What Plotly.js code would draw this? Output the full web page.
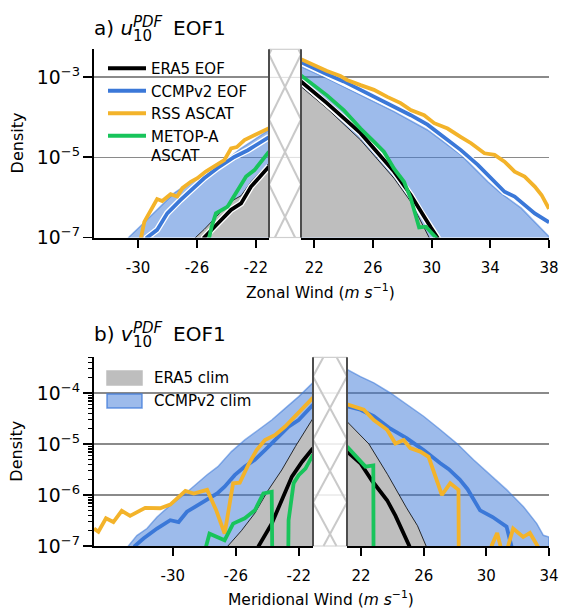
<!DOCTYPE html>
<html><head><meta charset="utf-8">
<script src="https://cdn.plot.ly/plotly-3.0.1.min.js"></script>
<style>html,body{margin:0;padding:0;background:#fff}</style>
</head><body><div id="chart" style="width:561px;height:609px"></div>
<script>
// ---------------- DATA (density; 0 = empty bin) ----------------
// Panel a, negative side (zonal wind)
const aN_era5Clim_x = [-26.3, -26.1, -25.5, -24.6, -23.7, -23.0, -22.3, -21.1];
const aN_era5Clim_y = [0, 1.0e-7, 1.6e-7, 3.5e-7, 7.9e-7, 1.1e-6, 2.5e-6, 7.1e-6];
const aN_ccmpClim_x = [-30.8, -30.65, -29.85, -28.71, -27.57, -26.43, -25.28, -24.14, -23.0, -21.1];
const aN_ccmpClim_y = [0, 1.0e-7, 1.9e-7, 4.9e-7, 1.26e-6, 2.45e-6, 4.4e-6, 7.8e-6, 1.66e-5, 4.8e-5];
const aN_era5Eof_x = [-25.7, -25.51, -24.6, -23.68, -23.0, -22.32, -21.1];
const aN_era5Eof_y = [0, 1.0e-7, 2.2e-7, 4.9e-7, 7.1e-7, 1.86e-6, 5.9e-6];
const aN_ccmpEof_x = [-29.6, -29.39, -28.71, -28.02, -27.11, -26.42, -25.51, -24.6, -23.46, -22.54, -21.1];
const aN_ccmpEof_y = [0, 1.0e-7, 1.55e-7, 4.0e-7, 8.7e-7, 1.5e-6, 3.0e-6, 5.4e-6, 1.02e-5, 1.5e-5, 3.2e-5];
const aN_rss_x = [-30.0, -29.8, -29.58, -28.71, -28.36, -27.79, -27.34, -26.99, -26.42, -25.97, -25.40, -24.83, -24.14, -23.68, -23.29, -22.77, -22.09, -21.1];
const aN_rss_y = [0, 1.0e-7, 2.45e-7, 9.1e-7, 8.1e-7, 1.2e-6, 1.05e-6, 1.7e-6, 2.45e-6, 3.0e-6, 4.4e-6, 5.9e-6, 8.5e-6, 1.66e-5, 1.8e-5, 2.7e-5, 3.6e-5, 5.3e-5];
const aN_metop_x = [-25.3, -25.17, -25.0, -24.71, -23.91, -23.34, -22.66, -22.09, -21.1];
const aN_metop_y = [0, 1.0e-7, 1.86e-7, 4.0e-7, 5.9e-7, 1.26e-6, 3.3e-6, 4.8e-6, 1.38e-5];

// Panel a, positive side
const aP_era5Clim_x = [21.1, 22.87, 25.16, 27.44, 28.58, 29.83, 30.0];
const aP_era5Clim_y = [5.8e-4, 1.66e-4, 2.7e-5, 3.0e-6, 7.8e-7, 1.0e-7, 0];
const aP_ccmpClim_x = [21.1, 22.87, 25.16, 27.44, 29.72, 32.0, 33.83, 34.74, 36.11, 37.03, 37.95, 38.0];
const aP_ccmpClim_y = [1.82e-3, 9.3e-4, 3.5e-4, 1.38e-4, 4.8e-5, 1.15e-5, 2.45e-6, 1.26e-6, 5.4e-7, 2.45e-7, 1.15e-7, 1.05e-7];
const aP_era5Eof_x = [21.1, 22.87, 25.16, 27.44, 28.58, 29.26, 29.95, 30.40, 30.6];
const aP_era5Eof_y = [7.8e-4, 2.24e-4, 4.0e-5, 4.4e-6, 1.15e-6, 4.4e-7, 1.78e-7, 1.0e-7, 0];
const aP_ccmpEof_x = [21.1, 21.96, 22.87, 24.01, 25.16, 26.30, 27.44, 28.58, 29.72, 30.86, 32.0, 33.15, 34.29, 34.97, 35.66, 36.34, 37.03, 37.95, 38.0];
const aP_ccmpEof_y = [2.34e-3, 1.66e-3, 1.17e-3, 7.8e-4, 4.8e-4, 2.95e-4, 1.82e-4, 1.12e-4, 6.5e-5, 3.2e-5, 1.51e-5, 6.5e-6, 2.45e-6, 1.38e-6, 1.05e-6, 6.5e-7, 4.0e-7, 2.45e-7, 2.4e-7];
const aP_rss_x = [21.1, 21.96, 22.87, 23.78, 24.24, 25.16, 26.07, 26.98, 27.89, 28.58, 29.49, 30.18, 31.09, 32.0, 32.69, 33.60, 34.29, 34.97, 35.66, 36.34, 37.03, 37.49, 37.95, 38.0];
const aP_rss_y = [2.8e-3, 2.0e-3, 1.41e-3, 1.07e-3, 8.5e-4, 6.3e-4, 4.8e-4, 3.2e-4, 2.24e-4, 1.51e-4, 1.12e-4, 7.1e-5, 5.2e-5, 3.2e-5, 2.24e-5, 1.26e-5, 1.15e-5, 7.8e-6, 4.4e-6, 3.3e-6, 1.86e-6, 1.15e-6, 5.4e-7, 5.2e-7];
const aP_metop_x = [21.1, 21.96, 22.87, 24.01, 25.16, 26.07, 26.75, 27.44, 28.12, 28.58, 28.92, 29.15, 29.61, 30.29, 30.5];
const aP_metop_y = [1.1e-3, 6.3e-4, 3.5e-4, 1.51e-4, 5.2e-5, 2.45e-5, 1.38e-5, 5.2e-6, 2.45e-6, 9.5e-7, 3.6e-7, 1.78e-7, 1.86e-7, 1.0e-7, 0];

// Panel b, negative side (meridional wind)
const bN_era5Clim_x = [-26.7, -26.5, -25.64, -24.79, -23.93, -23.08, -22.22, -21.1];
const bN_era5Clim_y = [0, 1.0e-7, 2.0e-7, 4.4e-7, 1.26e-6, 3.1e-6, 8.9e-6, 3.2e-5];
const bN_ccmpClim_x = [-33.0, -32.82, -32.28, -31.64, -31.0, -30.16, -29.31, -28.46, -27.82, -27.14, -26.28, -25.43, -24.57, -23.72, -22.87, -22.01, -21.1];
const bN_ccmpClim_y = [0, 1.0e-7, 1.6e-7, 2.2e-7, 3.7e-7, 6.3e-7, 1.0e-6, 1.7e-6, 2.5e-6, 3.6e-6, 7.1e-6, 1.2e-5, 1.9e-5, 2.95e-5, 5.0e-5, 8.5e-5, 1.6e-4];
const bN_era5Eof_x = [-24.7, -24.55, -23.72, -23.08, -22.44, -21.79, -21.1];
const bN_era5Eof_y = [0, 1.0e-7, 2.75e-7, 7.9e-7, 2.3e-6, 4.5e-6, 8.3e-6];
const bN_ccmpEof_x = [-32.6, -32.4, -31.86, -31.0, -30.16, -29.63, -29.1, -28.25, -27.18, -26.71, -26.07, -25.43, -24.79, -24.15, -23.5, -22.65, -22.01, -21.1];
const bN_ccmpEof_y = [0, 1.0e-7, 1.4e-7, 2.2e-7, 3.2e-7, 2.95e-7, 4.7e-7, 6.8e-7, 1.07e-6, 1.45e-6, 2.45e-6, 3.6e-6, 4.9e-6, 7.6e-6, 1.2e-5, 2.2e-5, 2.95e-5, 5.9e-5];
const bN_rss_x = [-35.0, -34.72, -34.24, -33.77, -33.24, -32.71, -31.75, -30.80, -30.16, -29.20, -28.67, -27.82, -27.24, -26.71, -26.17, -25.75, -25.21, -24.68, -24.15, -23.5, -22.87, -22.22, -21.58, -21.1];
const bN_rss_y = [2.2e-7, 1.9e-7, 3.5e-7, 2.95e-7, 4.9e-7, 3.9e-7, 5.6e-7, 5.5e-7, 6.5e-7, 1.2e-6, 1.07e-6, 1.26e-6, 5.0e-7, 1.74e-7, 1.7e-6, 1.74e-6, 3.9e-6, 7.6e-6, 1.2e-5, 1.5e-5, 2.2e-5, 3.5e-5, 5.5e-5, 8.1e-5];
const bN_metop_x = [-28.0, -27.88, -27.67, -26.71, -26.17, -25.43, -24.79, -24.25, -23.72, -23.61, -22.76, -22.65, -22.33, -22.01, -21.58, -21.1];
const bN_metop_y = [0, 1.0e-7, 1.74e-7, 1.3e-7, 2.75e-7, 3.5e-7, 5.0e-7, 1.07e-6, 1.15e-6, 0, 0, 3.2e-7, 1.7e-6, 2.45e-6, 3.3e-6, 6.2e-6];

// Panel b, positive side
const bP_era5Clim_x = [21.1, 22.5, 23.7, 24.9, 25.6, 26.15, 26.3];
const bP_era5Clim_y = [2.75e-5, 1.0e-5, 2.5e-6, 5.6e-7, 2.5e-7, 1.0e-7, 0];
const bP_ccmpClim_x = [21.1, 21.96, 22.81, 23.87, 24.93, 25.99, 27.06, 28.12, 29.18, 30.24, 31.31, 32.37, 33.22, 33.64, 34.0];
const bP_ccmpClim_y = [2.9e-4, 2.1e-4, 1.58e-4, 1.0e-4, 5.9e-5, 3.5e-5, 1.9e-5, 1.02e-5, 4.9e-6, 2.45e-6, 1.26e-6, 5.9e-7, 2.75e-7, 1.62e-7, 1.5e-7];
const bP_era5Eof_x = [21.1, 21.96, 22.7, 23.66, 24.2, 25.08, 25.25];
const bP_era5Eof_y = [7.1e-6, 4.2e-6, 1.9e-6, 7.9e-7, 3.9e-7, 1.0e-7, 0];
const bP_ccmpEof_x = [21.1, 21.96, 22.81, 23.87, 24.93, 25.99, 27.06, 27.6, 28.3, 28.8, 29.6, 30.4, 31.29, 31.6, 31.75];
const bP_ccmpEof_y = [5.5e-5, 4.7e-5, 3.5e-5, 2.0e-5, 1.29e-5, 7.6e-6, 4.2e-6, 3.2e-6, 2.0e-6, 1.3e-6, 5.0e-7, 3.7e-7, 2.4e-7, 1.0e-7, 0];
const bP_rss_x = [21.1, 22.17, 22.81, 23.66, 24.19, 24.72, 25.14, 25.78, 26.31, 26.74, 27.16, 27.69, 28.22, 28.27, 30.3, 30.33, 30.69, 30.9, 30.93, 31.36, 31.39, 31.71, 32.35, 32.78, 33.27, 33.3];
const bP_rss_y = [6.0e-5, 4.7e-5, 2.95e-5, 1.9e-5, 1.02e-5, 1.2e-5, 8.3e-6, 7.1e-6, 5.6e-6, 2.3e-6, 1.0e-6, 1.7e-6, 1.26e-6, 0, 0, 1.0e-7, 1.8e-7, 1.0e-7, 0, 0, 1.0e-7, 2.2e-7, 1.5e-7, 1.8e-7, 1.0e-7, 0];
const bP_metop_x = [21.1, 21.96, 22.28, 22.78, 22.82];
const bP_metop_y = [8.9e-6, 4.5e-6, 3.6e-6, 3.8e-6, 0];

// Tick labels
const aN_ticks = [-30, -26, -22];
const aP_ticks = [22, 26, 30, 34, 38];
const bN_ticks = [-30, -26, -22];
const bP_ticks = [22, 26, 30, 34];

// Names / styles
const NAMES = {era5Eof: 'ERA5 EOF', ccmpEof: 'CCMPv2 EOF', rss: 'RSS ASCAT', metop: 'METOP-A<br>ASCAT',
               era5Clim: 'ERA5 clim', ccmpClim: 'CCMPv2 clim'};
const COL = {black: '#000000', blue: '#3b78d8', orange: '#f3b32a', green: '#18c45b',
             gray: '#bebebe', blueFill: 'rgba(59,120,216,0.5)', blueEdge: 'rgba(59,120,216,0.55)'};
const FONT = 'DejaVu Sans, Verdana, sans-serif';
const FLOOR = 1e-10; // empty bins drawn far below the axis (clipped)

// ---------------- GEOMETRY ----------------
const W = 561, H = 609;
const M = {l: 94, r: 12, t: 49, b: 63};
const PW = W - M.l - M.r, PH = H - M.t - M.b;
const px = x => (x - M.l) / PW;
const py = y => 1 - (y - M.t) / PH;
const A = {top: 49.3, bot: 237.5, xl0: 94, xl1: 269, xr0: 301, xr1: 549, yr: [-7, -2.3], xlr: [-33, -21.1], xrr: [21.1, 38]};
const B = {top: 357.3, bot: 546, xl0: 94, xl1: 313, xr0: 347, xr1: 549, yr: [-7, -3.3], xlr: [-35, -21.1], xrr: [21.1, 34]};

const fy = ys => ys.map(v => v > 0 ? v : FLOOR);

const traces = [];
function fillTrace(x, y, xa, ya, fill, edge, ew) {
  traces.push({type: 'scatter', mode: 'lines', x: [x[0], ...x, x[x.length - 1]], y: [FLOOR, ...fy(y), FLOOR],
    xaxis: xa, yaxis: ya, fill: 'toself', fillcolor: fill, line: {color: edge, width: ew},
    showlegend: false, hoverinfo: 'skip'});
}
function lineTrace(x, y, xa, ya, color, w, name, show, halo) {
  if (halo) traces.push({type: 'scatter', mode: 'lines', x: x, y: fy(y), xaxis: xa, yaxis: ya,
    line: {color: '#ffffff', width: w + 2.6}, showlegend: false, hoverinfo: 'skip'});
  traces.push({type: 'scatter', mode: 'lines', x: x, y: fy(y), xaxis: xa, yaxis: ya,
    line: {color: color, width: w}, name: name, legend: 'legend', showlegend: show, hoverinfo: 'skip'});
}

const SETS = {};
SETS.aN = {era5Clim: [aN_era5Clim_x, aN_era5Clim_y], ccmpClim: [aN_ccmpClim_x, aN_ccmpClim_y], era5Eof: [aN_era5Eof_x, aN_era5Eof_y],
  ccmpEof: [aN_ccmpEof_x, aN_ccmpEof_y], rss: [aN_rss_x, aN_rss_y], metop: [aN_metop_x, aN_metop_y]};
SETS.aP = {era5Clim: [aP_era5Clim_x, aP_era5Clim_y], ccmpClim: [aP_ccmpClim_x, aP_ccmpClim_y], era5Eof: [aP_era5Eof_x, aP_era5Eof_y],
  ccmpEof: [aP_ccmpEof_x, aP_ccmpEof_y], rss: [aP_rss_x, aP_rss_y], metop: [aP_metop_x, aP_metop_y]};
SETS.bN = {era5Clim: [bN_era5Clim_x, bN_era5Clim_y], ccmpClim: [bN_ccmpClim_x, bN_ccmpClim_y], era5Eof: [bN_era5Eof_x, bN_era5Eof_y],
  ccmpEof: [bN_ccmpEof_x, bN_ccmpEof_y], rss: [bN_rss_x, bN_rss_y], metop: [bN_metop_x, bN_metop_y]};
SETS.bP = {era5Clim: [bP_era5Clim_x, bP_era5Clim_y], ccmpClim: [bP_ccmpClim_x, bP_ccmpClim_y], era5Eof: [bP_era5Eof_x, bP_era5Eof_y],
  ccmpEof: [bP_ccmpEof_x, bP_ccmpEof_y], rss: [bP_rss_x, bP_rss_y], metop: [bP_metop_x, bP_metop_y]};

const PANELS = [['x', 'y', 'aN', true], ['x2', 'y2', 'aP', true], ['x3', 'y3', 'bN', false], ['x4', 'y4', 'bP', false]];
PANELS.forEach(([xa, ya, k]) => {
  const d = SETS[k];
  fillTrace(...d.ccmpClim, xa, ya, COL.blueFill, COL.blueEdge, 1.5);
  fillTrace(...d.era5Clim, xa, ya, COL.gray, '#000000', 0.8);
});
const LW = 3.8;
PANELS.forEach(([xa, ya, k, halo], i) => {
  const d = SETS[k];
  const show = i === 0;
  lineTrace(...d.era5Eof, xa, ya, COL.black, LW, NAMES.era5Eof, show, halo);
  lineTrace(...d.ccmpEof, xa, ya, COL.blue, LW, NAMES.ccmpEof, show, halo);
  lineTrace(...d.rss, xa, ya, COL.orange, LW, NAMES.rss, show, false);
  lineTrace(...d.metop, xa, ya, COL.green, LW, NAMES.metop, show, false);
});

// ---------------- AXES ----------------
const tickfont = {family: FONT, size: 15, color: '#000'};
function xax(dom, range, ticks, anchor) {
  return {domain: dom, range: range, anchor: anchor, tickmode: 'array', tickvals: ticks,
    ticktext: ticks.map(t => String(t)), ticks: 'outside', ticklen: 8, tickwidth: 1.8, tickcolor: '#000',
    showline: true, linecolor: '#000', linewidth: 2, showgrid: false, zeroline: false, tickfont: tickfont,
    ticklabelstandoff: 7, fixedrange: true};
}
function yax(dom, range, dtick, anchor, labels, minor) {
  const o = {domain: dom, range: range, type: 'log', anchor: anchor, tick0: -7, dtick: dtick,
    exponentformat: 'power', showexponent: 'all', showgrid: true, gridcolor: '#8a8a8a', gridwidth: 1.4,
    zeroline: false, tickfont: tickfont, fixedrange: true, layer: 'above traces'};
  if (labels) {
    Object.assign(o, {ticks: 'outside', ticklen: 9, tickwidth: 1.8, tickcolor: '#000', showline: true,
      linecolor: '#000', linewidth: 2, showticklabels: true});
    if (minor) o.minor = {dtick: 'D1', ticks: 'outside', ticklen: 4.5, tickwidth: 1.2, tickcolor: '#000', showgrid: false};
  } else {
    Object.assign(o, {ticks: '', showline: false, showticklabels: false});
  }
  return o;
}
const aDom = [py(A.bot), 1], bDom = [0, py(B.top)];
const layout = {
  width: W, height: H, margin: M, paper_bgcolor: '#fff', plot_bgcolor: 'rgba(0,0,0,0)',
  font: {family: FONT, color: '#000'},
  xaxis: xax([px(A.xl0), px(A.xl1)], A.xlr, aN_ticks, 'y'),
  xaxis2: xax([px(A.xr0), px(A.xr1)], A.xrr, aP_ticks, 'y2'),
  xaxis3: xax([px(B.xl0), px(B.xl1)], B.xlr, bN_ticks, 'y3'),
  xaxis4: xax([px(B.xr0), px(B.xr1)], B.xrr, bP_ticks, 'y4'),
  yaxis: yax(aDom, A.yr, 2, 'x', true, false),
  yaxis2: yax(aDom, A.yr, 2, 'x2', false, false),
  yaxis3: yax(bDom, B.yr, 1, 'x3', true, true),
  yaxis4: yax(bDom, B.yr, 1, 'x4', false, false),
  showlegend: true,
  legend: {x: px(103), y: py(52), xanchor: 'left', yanchor: 'top', bgcolor: 'rgba(0,0,0,0)',
    font: {family: FONT, size: 15}, itemwidth: 38, tracegroupgap: 0, valign: 'top', traceorder: 'normal'},
  shapes: [], annotations: []
};

// ---------------- BROKEN-AXIS BOX (hatched) ----------------
function boxShapes(P, centers, period, gridLogs) {
  const S = layout.shapes;
  const x0 = P.xl1, x1 = P.xr0;
  S.push({type: 'rect', xref: 'paper', yref: 'paper', x0: px(x0), x1: px(x1), y0: py(P.bot), y1: py(P.top),
    fillcolor: '#ffffff', line: {width: 0}, layer: 'above'});
  const toY = L => P.top + (P.yr[1] - L) / (P.yr[1] - P.yr[0]) * (P.bot - P.top);
  gridLogs.forEach(L => S.push({type: 'line', xref: 'paper', yref: 'paper', x0: px(x0), x1: px(x1),
    y0: py(toY(L)), y1: py(toY(L)), line: {color: '#dedede', width: 1}, layer: 'above'}));
  const h = period / 2;
  centers.forEach(c => {
    [[c - h, c + h], [c + h, c - h]].forEach(([ya, yb]) => {
      let t0 = 0, t1 = 1;
      const dy = yb - ya;
      const ta = (P.top - ya) / dy, tb = (P.bot - ya) / dy;
      t0 = Math.max(t0, Math.min(ta, tb)); t1 = Math.min(t1, Math.max(ta, tb));
      if (t1 <= t0) return;
      S.push({type: 'line', xref: 'paper', yref: 'paper',
        x0: px(x0 + (x1 - x0) * t0), y0: py(ya + dy * t0), x1: px(x0 + (x1 - x0) * t1), y1: py(ya + dy * t1),
        line: {color: '#c9c9c9', width: 2}, layer: 'above'});
    });
  });
  [P.top, P.bot].forEach(y => S.push({type: 'line', xref: 'paper', yref: 'paper', x0: px(x0), x1: px(x1),
    y0: py(y), y1: py(y), line: {color: '#cfcfcf', width: 1.2}, layer: 'above'}));
  [x0, x1].forEach(x => S.push({type: 'line', xref: 'paper', yref: 'paper', x0: px(x), x1: px(x),
    y0: py(P.bot), y1: py(P.top), line: {color: '#4d4d4d', width: 2}, layer: 'above'}));
}
boxShapes(A, [22, 87, 152, 217, 282], 65, [-3, -5]);
boxShapes(B, [345, 408, 471, 534, 597], 63, [-4, -5, -6]);

// ---------------- TEXT ----------------
const ann = layout.annotations;
function t(text, x, y, size, opts) {
  ann.push(Object.assign({text: text, xref: 'paper', yref: 'paper', x: px(x), y: py(y), showarrow: false,
    xanchor: 'left', yanchor: 'middle', font: {family: FONT, size: size, color: '#000'}}, opts || {}));
}
// panel b legend (filled patches)
const LEG2 = [[NAMES.era5Clim, COL.gray, COL.gray, 378], [NAMES.ccmpClim, COL.blueFill, 'rgba(59,120,216,0.75)', 401]];
LEG2.forEach(([name, fill, edge, y]) => {
  layout.shapes.push({type: 'rect', xref: 'paper', yref: 'paper', x0: px(107), x1: px(142), y0: py(y + 7), y1: py(y - 7),
    fillcolor: fill, line: {color: edge, width: 1.5}, layer: 'above'});
  t(name, 152, y, 15);
});
[[0, 'a', 'u'], [306, 'b', 'v']].forEach(([off, letter, sym]) => {
  t(letter + ') <i>' + sym + '</i>', 91.5, 28 + off, 20);
  t('<i>PDF</i>', 130.5, 22 + off, 15);
  t('10', 130.5, 35.5 + off, 15);
  t('EOF1', 170.5, 28 + off, 20);
});
t('Density', 17, (A.top + A.bot) / 2, 16, {xanchor: 'center', textangle: -90});
t('Density', 17, (B.top + B.bot) / 2, 16, {xanchor: 'center', textangle: -90});
t('Zonal Wind (<i>m s</i><sup>−1</sup>)', 320, 291, 15.5, {xanchor: 'center'});
t('Meridional Wind (<i>m s</i><sup>−1</sup>)', 321, 598, 15.5, {xanchor: 'center'});

Plotly.newPlot('chart', traces, layout, {staticPlot: true, displayModeBar: false});
</script>
</body></html>
